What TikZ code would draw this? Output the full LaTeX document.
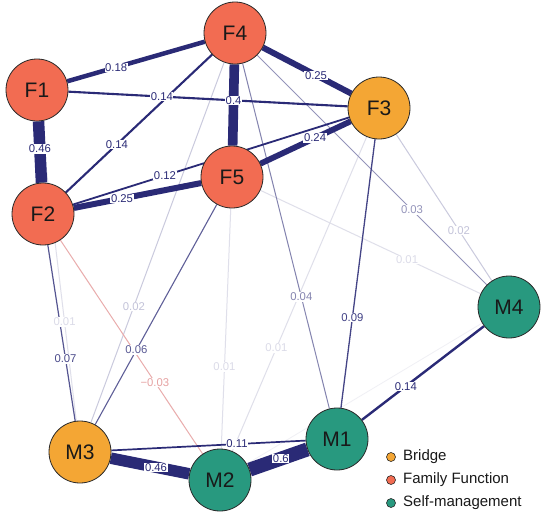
\documentclass[tikz,border=0pt]{standalone}
\usepackage{fontspec}
\setmainfont{Liberation Sans}
\usetikzlibrary{calc}
\definecolor{ec}{RGB}{42,42,118}
\definecolor{famc}{RGB}{242,108,82}
\definecolor{brgc}{RGB}{244,166,52}
\definecolor{slfc}{RGB}{40,153,127}
\definecolor{negc}{RGB}{205,70,70}
\definecolor{bord}{RGB}{40,40,40}
\pgfdeclarelayer{bgl}
\pgfdeclarelayer{edges}
\pgfdeclarelayer{labels}
\pgfsetlayers{bgl,edges,labels,main}
\tikzset{
  nd/.style={circle, draw=bord, line width=0.8pt, minimum size=62pt, inner sep=0pt,
    text=black!90, font=\fontsize{21}{22}\selectfont},
  fam/.style={nd, fill=famc},
  brg/.style={nd, fill=brgc},
  slf/.style={nd, fill=slfc},
  lbl/.style={fill=white, inner sep=0.6pt, font=\fontsize{11.3}{12}\selectfont},
  edg/.style={line width=#1},
  lgdot/.style={circle, draw=bord, line width=0.6pt, minimum size=9pt, inner sep=0pt},
  lgtxt/.style={anchor=west, inner sep=0pt, font=\fontsize{15}{16}\selectfont, text=black!90}
}
\begin{document}
\begin{tikzpicture}[x=1pt,y=-1pt]
\begin{pgfonlayer}{bgl}
\fill[white] (0,0) rectangle (546,517);
\end{pgfonlayer}
\useasboundingbox (0,0) rectangle (546,517);
% nodes
\node[fam] (F1) at (37,90) {F1};
\node[fam] (F2) at (43,214) {F2};
\node[brg] (F3) at (379,108) {F3};
\node[fam] (F4) at (235,33) {F4};
\node[fam] (F5) at (232,177) {F5};
\node[slf] (M1) at (337,439) {M1};
\node[slf] (M2) at (220,480) {M2};
\node[brg] (M3) at (80,452) {M3};
\node[slf] (M4) at (509,307) {M4};

\begin{pgfonlayer}{edges}
% faint edges
\draw[edg=0.8pt, ec!7] (M2) -- (M4);
\draw[edg=1pt, ec!15] (F1) -- (M3);
\draw[edg=1pt, ec!15] (F5) -- (M4);
\draw[edg=1pt, ec!15] (F3) -- (M2);
\draw[edg=1pt, ec!15] (F5) -- (M2);
\draw[edg=1pt, ec!25] (F4) -- (M3);
\draw[edg=1pt, ec!25] (F3) -- (M4);
\draw[edg=1pt, negc!45] (F2) -- (M2);
\draw[edg=1pt, ec!50] (F4) -- (M4);
\draw[edg=1pt, ec!58] (F4) -- (M1);
\draw[edg=1.1pt, ec!75] (F5) -- (M3);
\draw[edg=1.2pt, ec!80] (F2) -- (M3);
\draw[edg=1.3pt, ec!88] (F3) -- (M1);
% strong edges
\draw[edg=1.7pt, ec] (M3) -- (M1);
\draw[edg=1.8pt, ec] (F2) -- (F3);
\draw[edg=2.1pt, ec] (F1) -- (F3);
\draw[edg=2.1pt, ec] (F2) -- (F4);
\draw[edg=2.4pt, ec] (M1) -- (M4);
\draw[edg=4.5pt, ec] (F1) -- (F4);
\draw[edg=5.8pt, ec] (F5) -- (F3);
\draw[edg=6pt, ec] (F2) -- (F5);
\draw[edg=6pt, ec] (F4) -- (F3);
\draw[edg=9.6pt, ec] (F4) -- (F5);
\draw[edg=11.5pt, ec] (F1) -- (F2);
\draw[edg=11.5pt, ec] (M3) -- (M2);
\draw[edg=14pt, ec] (M2) -- (M1);
\end{pgfonlayer}

\begin{pgfonlayer}{labels}
\node[lbl, text=ec] (l1) at ($(F1)!0.40!(F4)$) {0.18};
\node[lbl, text=ec] (l2) at ($(F1)!0.365!(F3)$) {0.14};
\node[lbl, text=ec] (l3) at ($(F4)!0.47!(F5)$) {0.4};
\node[lbl, text=ec] (l4) at ($(F1)!0.476!(F2)$) {0.46};
\node[lbl, text=ec] (l5) at ($(F2)!0.385!(F4)$) {0.14};
\node[lbl, text=ec] (l6) at ($(F2)!0.363!(F3)$) {0.12};
\node[lbl, text=ec] (l7) at ($(F2)!0.418!(F5)$) {0.25};
\node[lbl, text=ec] (l8) at ($(F4)!0.5625!(F3)$) {0.25};
\node[lbl, text=ec] (l9) at ($(F5)!0.565!(F3)$) {0.24};
\node[lbl, text=ec!50] (l10) at ($(F4)!0.646!(M4)$) {0.03};
\node[lbl, text=ec!28] (l11) at ($(F3)!0.615!(M4)$) {0.02};
\node[lbl, text=ec!17] (l12) at ($(F5)!0.632!(M4)$) {0.01};
\node[lbl, text=ec!90] (l13) at ($(F3)!0.634!(M1)$) {0.09};
\node[lbl, text=ec!58] (l14) at ($(F4)!0.65!(M1)$) {0.04};
\node[lbl, text=ec!17] (l15) at ($(F3)!0.645!(M2)$) {0.01};
\node[lbl, text=ec!17] (l16) at ($(F5)!0.627!(M2)$) {0.01};
\node[lbl, text=ec!28] (l17) at ($(F4)!0.652!(M3)$) {0.02};
\node[lbl, text=ec!78] (l18) at ($(F5)!0.629!(M3)$) {0.06};
\node[lbl, text=negc!50] (l19) at ($(F2)!0.632!(M2)$) {−0.03};
\node[lbl, text=ec!17] (l20) at ($(F1)!0.641!(M3)$) {0.01};
\node[lbl, text=ec!85] (l21) at ($(F2)!0.609!(M3)$) {0.07};
\node[lbl, text=ec] (l22) at ($(M3)!0.543!(M2)$) {0.46};
\node[lbl, text=ec] (l23) at ($(M3)!0.611!(M1)$) {0.11};
\node[lbl, text=ec] (l24) at ($(M2)!0.52!(M1)$) {0.6};
\node[lbl, text=ec] (l25) at ($(M1)!0.40!(M4)$) {0.14};
\end{pgfonlayer}

% legend
\node[lgdot, fill=brgc] (g1) at (391,457) {};
\node[lgdot, fill=famc] (g2) at (391,480) {};
\node[lgdot, fill=slfc] (g3) at (391,503) {};
\node[lgtxt] (t1) at (403,457) {Bridge};
\node[lgtxt] (t2) at (403,480) {Family Function};
\node[lgtxt] (t3) at (403,503) {Self-management};
\end{tikzpicture}
\end{document}
